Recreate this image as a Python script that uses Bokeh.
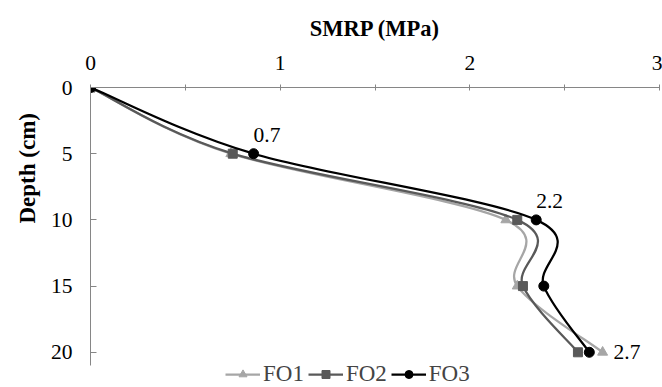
import math
from bokeh.plotting import figure
from bokeh.models import Range1d, Legend, LegendItem, Title, ColumnDataSource, FixedTicker
from bokeh.core.properties import value
from bokeh.embed import file_html
from bokeh.resources import INLINE

# ---- data ----
depth = [0, 5, 10, 15, 20]
fo1 = [0.0, 0.74, 2.19, 2.25, 2.70]
fo2 = [0.0, 0.75, 2.25, 2.28, 2.57]
fo3 = [0.0, 0.86, 2.35, 2.39, 2.63]
series_names = ["FO1", "FO2", "FO3"]
x_ticks = [0, 1, 2, 3]
y_ticks = [0, 5, 10, 15, 20]
label_text = ["0.7", "2.2", "2.7"]
label_x = [fo3[1], fo3[2], fo1[4]]
label_y = [depth[1], depth[2], depth[4]]
y_axis_max = 21

FONT = "Liberation Serif"
colors = ["#A6A6A6", "#595959", "#000000"]
markers = ["triangle", "square", "circle"]
msizes = [10, 9, 10]

p = figure(frame_width=569, frame_height=300, output_backend="svg", toolbar_location=None,
           x_range=Range1d(0, 3), y_range=Range1d(22.66, 0),
           x_axis_location="above", y_axis_location="left",
           min_border_left=90, min_border_right=3, min_border_top=87, min_border_bottom=0)
p.outline_line_color = None
p.xgrid.visible = False
p.ygrid.visible = False
p.background_fill_color = "white"
p.border_fill_color = "white"


def smooth_segments(xs, ys):
    """Catmull-Rom style bezier control points between consecutive data points."""
    n = len(xs)
    out = {k: [] for k in ("x0", "y0", "x1", "y1", "cx0", "cy0", "cx1", "cy1")}
    for i in range(n - 1):
        im1 = max(i - 1, 0)
        ip2 = min(i + 2, n - 1)
        out["x0"].append(xs[i]); out["y0"].append(ys[i])
        out["x1"].append(xs[i + 1]); out["y1"].append(ys[i + 1])
        out["cx0"].append(xs[i] + (xs[i + 1] - xs[im1]) / 6)
        out["cy0"].append(ys[i] + (ys[i + 1] - ys[im1]) / 6)
        out["cx1"].append(xs[i + 1] - (xs[ip2] - xs[i]) / 6)
        out["cy1"].append(ys[i + 1] - (ys[ip2] - ys[i]) / 6)
    return out


items = []
for name, xs, c, m, ms in zip(series_names, [fo1, fo2, fo3], colors, markers, msizes):
    seg = ColumnDataSource(smooth_segments(xs, depth))
    br = p.bezier(x0="x0", y0="y0", x1="x1", y1="y1", cx0="cx0", cy0="cy0",
                  cx1="cx1", cy1="cy1", source=seg, line_color=c, line_width=2.25)
    sr = p.scatter(xs, depth, marker=m, size=ms, fill_color=c, line_color=c)
    items.append(LegendItem(label=name, renderers=[br, sr]))

# data labels
lsrc = ColumnDataSource(dict(x=label_x, y=label_y, t=label_text,
                             xo=[0, 0, 11], yo=[-19, -19, 0]))
p.text(x="x", y="y", text="t", source=lsrc, x_offset="xo", y_offset="yo",
       text_font=value(FONT), text_font_size="21.5px", text_color="black",
       text_align="left", text_baseline="middle")

# x axis (top)
xa = p.xaxis[0]
xa.ticker = FixedTicker(ticks=x_ticks, minor_ticks=[0.5, 1.5, 2.5])
xa.axis_label = "SMRP (MPa)"
xa.axis_label_text_font = FONT
xa.axis_label_text_font_style = "bold"
xa.axis_label_text_font_size = "22.5px"
xa.axis_label_text_color = "black"
xa.axis_label_standoff = 12
xa.major_label_text_font = FONT
xa.major_label_text_font_size = "21.5px"
xa.major_label_text_color = "black"
xa.major_label_standoff = 15
xa.axis_line_color = "#868686"
xa.major_tick_line_color = "#868686"
xa.minor_tick_line_color = "#868686"
xa.major_tick_in = 3
xa.major_tick_out = 3
xa.minor_tick_in = 3
xa.minor_tick_out = 3

# y axis (left)
ya = p.yaxis[0]
ya.ticker = FixedTicker(ticks=y_ticks)
ya.bounds = (0, y_axis_max)
ya.major_label_text_font = FONT
ya.major_label_text_font_size = "21.5px"
ya.major_label_text_color = "black"
ya.major_label_standoff = 18
ya.axis_line_color = "#868686"
ya.major_tick_line_color = "#868686"
ya.major_tick_in = 6
ya.major_tick_out = 0
ya.minor_tick_line_color = None

p.add_layout(Title(text="Depth (cm)", align="left", offset=164, standoff=16,
                   text_font=FONT, text_font_style="bold", text_font_size="23px",
                   text_color="black"), "left")

legend = Legend(items=items, orientation="horizontal", location=(135, 0),
                label_text_font=FONT, label_text_font_size="23px",
                glyph_width=35, glyph_height=20, label_height=20,
                label_standoff=3, spacing=4, padding=0, margin=0,
                border_line_color=None, background_fill_alpha=0)
p.add_layout(legend, "center")

open("out.html", "w").write(file_html(p, INLINE))
